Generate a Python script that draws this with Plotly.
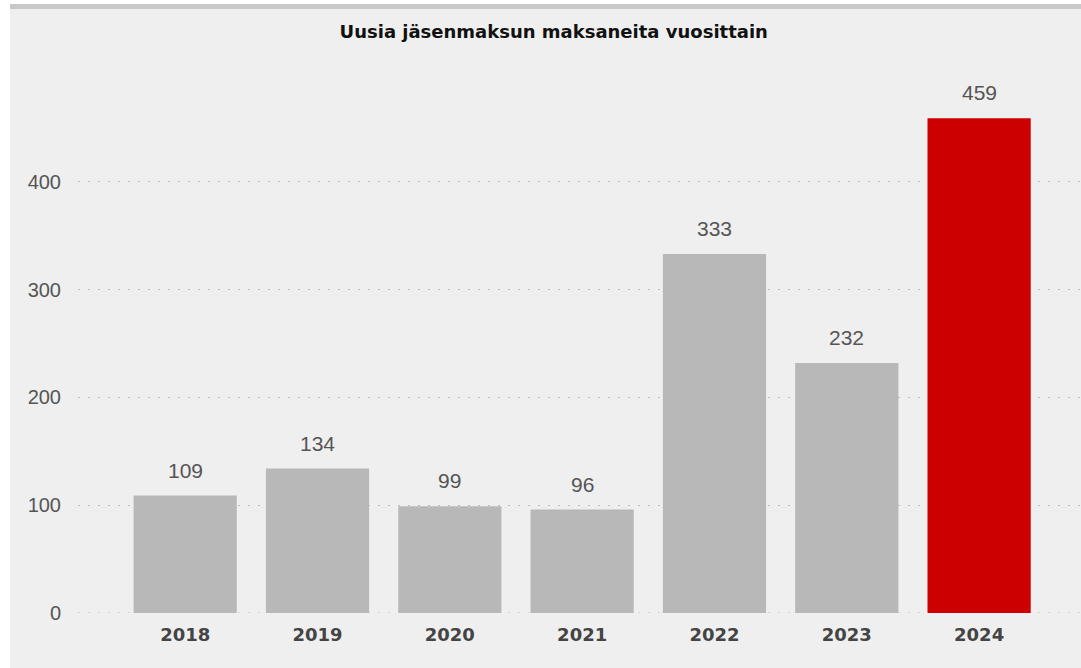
import plotly.graph_objects as go

years = ["2018", "2019", "2020", "2021", "2022", "2023", "2024"]
values = [109, 134, 99, 96, 333, 232, 459]
colors = ["#b8b8b8"] * 6 + ["#cc0000"]
title = "Uusia jäsenmaksun maksaneita vuosittain"

fig = go.Figure()
fig.add_trace(go.Bar(
    x=years, y=values, marker=dict(color=colors, line=dict(width=0)),
    width=0.78, hoverinfo="skip",
))
for i, v in enumerate(values):
    fig.add_annotation(xref="x", yref="y", x=i, y=v, text=str(v), showarrow=False,
                       yanchor="bottom", yshift=12,
                       font=dict(family="Liberation Sans, Arial", size=21, color="#555555"))

H = 668
t, b = 56, 59
ph = H - t - b

fig.update_layout(
    width=1081, height=668,
    paper_bgcolor="#efefef", plot_bgcolor="#efefef",
    margin=dict(l=68, r=10, t=t, b=b),
    showlegend=False,
    title=dict(text="<b>" + title + "</b>", x=0.503, xanchor="center", y=1 - 28 / H, yanchor="middle",
               font=dict(family="DejaVu Sans", size=18, color="#111111")),
    xaxis=dict(type="category", range=[-0.81, 6.77], showgrid=False, showline=False, ticks="",
               tickfont=dict(family="DejaVu Sans", size=18, color="#444444", weight="bold"),
               ticklabelstandoff=9),
    yaxis=dict(range=[0, 513], tickvals=[0, 100, 200, 300, 400], showgrid=True,
               gridcolor="#bdbdbd", griddash="2px,8px", gridwidth=1, zeroline=False, showline=False,
               tickfont=dict(family="Liberation Sans, Arial", size=20, color="#555555"),
               ticklabelstandoff=16),
    shapes=[
        dict(type="rect", xref="paper", yref="paper", x0=-0.2, x1=1.2, y0=1 + 51 / ph, y1=1 + t / ph,
             fillcolor="#c8c8c8", line=dict(width=0), layer="above"),
        dict(type="line", xref="paper", yref="y", x0=0, x1=1, y0=0, y1=0,
             line=dict(color="#bdbdbd", width=1, dash="2px,8px"), layer="below"),
    ],
)
fig.write_html("out.html", post_script="document.body.style.margin='4px 0 0 10px';")
